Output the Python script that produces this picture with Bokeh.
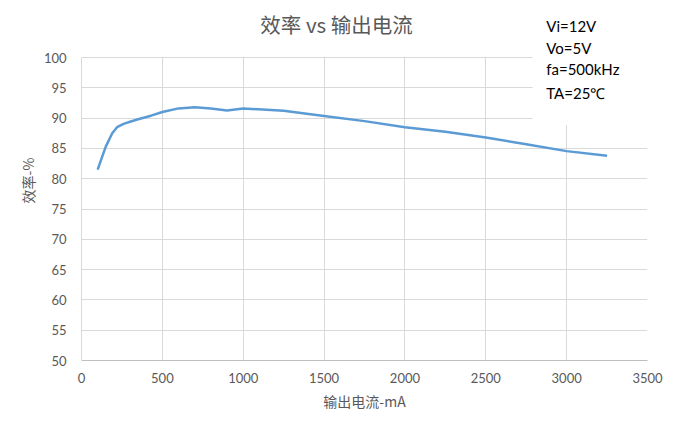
from bokeh.plotting import figure
from bokeh.models import Label, FixedTicker, Range1d
from bokeh.embed import file_html
from bokeh.resources import INLINE

# data
current_ma = [100, 150, 190, 220, 260, 300, 350, 430, 500, 600, 700, 800, 900, 1000,
              1250, 1500, 1750, 2000, 2250, 2500, 2750, 3000, 3250]
efficiency = [81.5, 85.3, 87.5, 88.5, 89.05, 89.4, 89.8, 90.4, 91.0, 91.6, 91.8, 91.6, 91.25, 91.6,
              91.2, 90.35, 89.5, 88.5, 87.75, 86.8, 85.7, 84.55, 83.8]
x_ticks = [0, 500, 1000, 1500, 2000, 2500, 3000, 3500]
y_ticks = [50, 55, 60, 65, 70, 75, 80, 85, 90, 95, 100]
title_text = "效率 vs 输出电流"
x_label = "输出电流-mA"
y_label = "效率-%"
notes = ["Vi=12V", "Vo=5V", "fa=500kHz", "TA=25℃"]

grey = "#595959"
grid = "#d9d9d9"

# frame spans from the top of the canvas; the area above 100 is blanked out
Y_TOP = 100 + 57 / 6.06
p = figure(width=673, height=430, output_backend="svg", toolbar_location=None,
           x_range=Range1d(0, 3500), y_range=Range1d(50, Y_TOP),
           min_border_left=81, min_border_right=26, min_border_top=0, min_border_bottom=70)
p.title.visible = False
p.outline_line_color = None
p.background_fill_color = "white"
p.border_fill_color = "white"

p.xaxis.ticker = FixedTicker(ticks=x_ticks)
p.yaxis.ticker = FixedTicker(ticks=y_ticks)
for ax in (p.xaxis, p.yaxis):
    ax.major_tick_line_color = None
    ax.minor_tick_line_color = None
    ax.major_label_text_font = "Lato"
    ax.major_label_text_font_size = "13px"
    ax.major_label_text_color = grey
    ax.axis_label_text_font = "Noto Sans CJK SC"
    ax.axis_label_text_font_size = "14px"
    ax.axis_label_text_font_style = "normal"
    ax.axis_label_text_color = grey
p.xaxis.axis_line_color = "#bfbfbf"
p.yaxis.axis_line_color = grid
p.yaxis.bounds = (50, 100)
p.xaxis.major_label_standoff = 6
p.yaxis.major_label_standoff = 9
p.xaxis.axis_label = x_label
p.yaxis.axis_label = y_label
p.xaxis.axis_label_standoff = 5
p.yaxis.axis_label_standoff = 3

p.xgrid.ticker = FixedTicker(ticks=x_ticks)
p.ygrid.ticker = FixedTicker(ticks=y_ticks)
p.xgrid.grid_line_color = grid
p.ygrid.grid_line_color = grid

# blank area above the plot area and the white text box at top right
p.quad(left=[-100], right=[3700], bottom=[100.12], top=[Y_TOP + 5], fill_color="white", line_color=None)
p.quad(left=[2790], right=[3700], bottom=[88.8], top=[Y_TOP + 5], fill_color="white", line_color=None)

p.line(current_ma, efficiency, line_color="#5B9BD5", line_width=2.5, line_join="round")

p.add_layout(Label(x=1577, y=105.45, text=title_text, text_align="center", text_baseline="middle",
                   text_font="Noto Sans CJK SC", text_font_size="20.5px", text_color=grey))

note_y = [105.28, 101.65, 98.18, 94.22]
for t, yy in zip(notes, note_y):
    p.add_layout(Label(x=2874, y=yy, text=t, text_align="left", text_baseline="middle",
                       text_font="Lato", text_font_size="15px", text_color="black"))

open("out.html", "w").write(file_html(p, INLINE))
